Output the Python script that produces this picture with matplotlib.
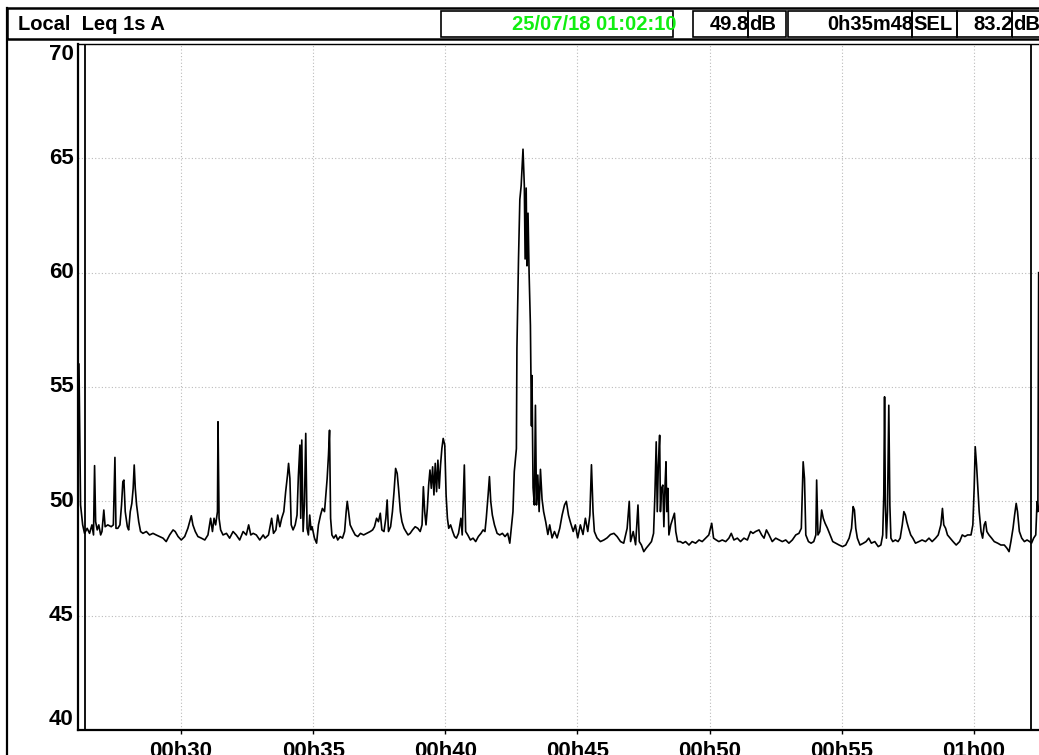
import matplotlib
matplotlib.use("Agg")
import matplotlib.pyplot as plt
from matplotlib.patches import Rectangle
from matplotlib.lines import Line2D
from matplotlib.ticker import MultipleLocator, FuncFormatter

# header fields
title = "Local  Leq 1s A"
cursor_date = "25/07/18 01:02:10"
leq_value = "49.8"
duration = "0h35m48"
sel_value = "83.2"

# cursors (minutes after 00h00)
cursor_start = 26 + 22 / 60
cursor_end = 62 + 10 / 60

# Leq 1s A readings, (minute, dB)
early = [
    (26.14, 56.0), (26.20, 49.84), (26.28, 48.97), (26.35, 48.60), (26.45, 48.82),
    (26.54, 48.60), (26.63, 48.97), (26.69, 48.53), (26.73, 51.56), (26.77, 49.11),
    (26.83, 48.75), (26.89, 48.97), (26.96, 48.53), (27.01, 48.68), (27.08, 49.62),
    (27.13, 48.89), (27.23, 48.97), (27.36, 48.89), (27.44, 48.97), (27.50, 51.92),
    (27.54, 48.82), (27.61, 48.82), (27.69, 48.97), (27.75, 49.84), (27.80, 50.86),
    (27.84, 50.93), (27.89, 49.55), (27.97, 48.89), (28.02, 48.75), (28.08, 49.55),
    (28.14, 49.91), (28.19, 50.57), (28.23, 51.59), (28.27, 50.57), (28.32, 49.84),
    (28.40, 49.11), (28.47, 48.68), (28.56, 48.60), (28.69, 48.68), (28.81, 48.53),
    (28.94, 48.60), (29.06, 48.53), (29.19, 48.46), (29.32, 48.39), (29.44, 48.24),
    (29.57, 48.53), (29.70, 48.75), (29.78, 48.68), (29.89, 48.46), (30.01, 48.31),
    (30.14, 48.46), (30.26, 48.82), (30.39, 49.37), (30.45, 48.97), (30.54, 48.68),
    (30.64, 48.46), (30.77, 48.39), (30.90, 48.31), (31.02, 48.53), (31.12, 49.26),
    (31.19, 48.68), (31.25, 49.26), (31.31, 48.97), (31.38, 49.55), (31.40, 53.48),
    (31.44, 49.26), (31.50, 48.75), (31.59, 48.53), (31.72, 48.60), (31.84, 48.39),
    (31.97, 48.68), (32.09, 48.53), (32.22, 48.31), (32.35, 48.68), (32.47, 48.53),
    (32.56, 48.97), (32.64, 48.53), (32.73, 48.60), (32.85, 48.53), (32.98, 48.31),
    (33.11, 48.53),
]

middle = [
    (33.18, 48.39), (33.31, 48.53), (33.43, 49.26), (33.50, 48.60), (33.59, 48.75),
    (33.66, 49.40), (33.74, 48.89), (33.81, 49.26), (33.89, 49.55), (33.96, 50.42),
    (34.03, 51.15), (34.07, 51.66), (34.12, 51.00), (34.17, 48.97), (34.24, 48.75),
    (34.32, 48.97), (34.39, 49.40), (34.44, 51.08), (34.50, 52.46), (34.53, 49.26),
    (34.57, 52.68), (34.62, 48.68), (34.67, 49.84), (34.72, 52.97), (34.77, 48.82),
    (34.82, 48.53), (34.87, 49.40), (34.92, 48.75), (34.96, 48.89), (35.05, 48.39),
    (35.13, 48.17), (35.20, 48.97), (35.28, 49.40), (35.35, 49.69), (35.43, 49.55),
    (35.48, 50.28), (35.53, 51.00), (35.58, 52.02), (35.62, 53.11), (35.66, 49.26),
    (35.71, 48.53), (35.78, 48.39), (35.86, 48.53), (35.93, 48.31), (36.02, 48.46),
    (36.11, 48.39), (36.19, 48.68), (36.25, 49.55), (36.29, 50.00), (36.34, 49.55),
    (36.40, 48.97), (36.49, 48.75), (36.59, 48.53), (36.69, 48.46), (36.79, 48.60),
    (36.91, 48.53), (37.03, 48.60), (37.16, 48.68), (37.25, 48.75), (37.32, 48.89),
    (37.40, 49.26), (37.47, 49.11), (37.54, 49.48), (37.60, 48.75), (37.68, 48.68),
    (37.75, 49.26), (37.80, 50.06), (37.85, 48.68), (37.93, 48.89), (38.00, 49.55),
    (38.06, 50.42), (38.12, 51.44), (38.18, 51.22), (38.23, 50.57), (38.30, 49.55),
    (38.36, 49.11), (38.44, 48.82), (38.51, 48.68), (38.59, 48.53), (38.67, 48.60),
    (38.76, 48.75), (38.86, 48.89), (38.96, 48.82), (39.05, 48.68), (39.12, 48.97),
    (39.17, 50.64), (39.22, 49.55), (39.27, 48.97), (39.32, 49.69), (39.37, 50.71),
    (39.42, 51.37), (39.47, 50.57), (39.52, 51.51), (39.57, 50.28), (39.62, 51.66),
    (39.67, 50.42), (39.72, 51.80), (39.77, 50.57), (39.82, 51.59), (39.87, 52.31),
    (39.92, 52.75), (39.98, 52.46), (40.03, 50.28), (40.08, 49.26), (40.13, 48.82),
    (40.20, 48.97), (40.28, 48.68), (40.35, 48.46),
    (40.42, 48.39), (40.50, 48.60), (40.59, 49.26), (40.64, 48.53), (40.72, 51.59),
    (40.77, 48.68), (40.85, 48.53), (40.95, 48.31), (41.05, 48.39), (41.15, 48.24),
    (41.25, 48.46), (41.35, 48.60), (41.43, 48.75), (41.50, 48.68), (41.55, 49.26),
    (41.62, 50.28), (41.67, 51.08), (41.72, 49.99), (41.78, 49.40), (41.86, 48.97),
    (41.96, 48.60), (42.06, 48.53), (42.16, 48.60), (42.26, 48.46), (42.36, 48.60),
    (42.44, 48.17), (42.51, 48.97), (42.56, 49.55),
]

event = [
    (42.61, 51.30), (42.69, 52.30), (42.71, 56.70), (42.77, 60.60), (42.82, 63.20),
    (42.87, 63.80), (42.90, 64.50), (42.94, 65.40), (42.99, 63.80), (43.02, 60.60),
    (43.06, 63.70), (43.09, 60.30), (43.13, 62.60), (43.17, 60.00), (43.22, 57.70),
    (43.26, 53.30), (43.28, 55.50), (43.32, 50.60), (43.37, 49.84), (43.41, 54.20),
    (43.45, 49.84), (43.50, 51.15), (43.55, 49.55), (43.60, 51.40), (43.66, 50.10),
    (43.72, 49.55), (43.80, 49.10), (43.88, 48.55), (43.95, 48.97), (44.04, 48.40),
    (44.13, 48.68), (44.23, 48.40), (44.33, 48.82), (44.42, 49.40), (44.51, 49.84),
    (44.58, 50.00), (44.66, 49.40), (44.73, 49.10), (44.84, 48.68), (44.92, 48.97),
    (45.01, 48.40), (45.11, 48.97), (45.21, 48.55), (45.30, 49.26), (45.39, 48.68),
    (45.47, 49.40), (45.53, 51.60), (45.59, 49.55), (45.64, 48.68), (45.74, 48.40),
    (45.87, 48.24), (46.00, 48.31), (46.12, 48.40), (46.25, 48.55), (46.38, 48.60),
    (46.50, 48.46), (46.63, 48.24), (46.75, 48.17), (46.88, 48.82), (46.96, 50.00),
    (47.01, 48.24), (47.11, 48.68), (47.20, 48.10), (47.29, 49.84), (47.34, 48.24),
]

late = [
    (47.42, 48.09), (47.51, 47.80), (47.60, 47.95), (47.70, 48.09), (47.80, 48.24),
    (47.88, 48.60), (47.93, 50.28), (47.98, 52.60), (48.02, 49.55), (48.06, 51.59),
    (48.11, 52.89), (48.14, 49.55), (48.18, 50.57), (48.23, 50.71), (48.27, 48.89),
    (48.31, 50.57), (48.35, 51.73), (48.38, 49.55), (48.42, 50.57), (48.46, 48.53),
    (48.53, 48.97), (48.61, 49.26), (48.67, 49.48), (48.72, 48.68), (48.79, 48.24),
    (48.89, 48.24), (48.99, 48.17), (49.09, 48.24), (49.22, 48.09), (49.34, 48.24),
    (49.47, 48.17), (49.60, 48.31), (49.72, 48.24), (49.85, 48.39), (49.97, 48.53),
    (50.08, 49.04), (50.15, 48.39), (50.25, 48.31), (50.35, 48.24), (50.48, 48.31),
    (50.61, 48.24), (50.73, 48.39), (50.82, 48.60), (50.92, 48.31), (51.05, 48.39),
    (51.17, 48.24), (51.30, 48.39), (51.43, 48.31), (51.55, 48.68), (51.64, 48.60),
    (51.74, 48.68), (51.87, 48.75), (51.97, 48.53), (52.06, 48.39), (52.15, 48.75),
    (52.25, 48.53), (52.37, 48.24), (52.50, 48.39), (52.63, 48.31), (52.75, 48.24),
    (52.88, 48.31), (53.00, 48.17), (53.13, 48.31), (53.26, 48.53), (53.38, 48.60),
    (53.47, 48.82), (53.54, 51.73), (53.59, 51.00), (53.64, 48.53), (53.74, 48.24),
    (53.84, 48.17), (53.94, 48.24), (54.02, 48.53), (54.05, 50.93), (54.10, 48.53),
    (54.17, 48.68), (54.24, 49.62), (54.30, 49.26), (54.37, 49.04),
]

final = [
    (54.46, 48.82), (54.56, 48.53), (54.66, 48.24), (54.77, 48.17), (54.90, 48.09),
    (55.03, 48.02), (55.15, 48.09), (55.28, 48.39), (55.37, 48.82), (55.43, 49.77),
    (55.48, 49.62), (55.53, 48.82), (55.59, 48.39), (55.69, 48.09), (55.82, 48.17),
    (55.92, 48.24), (56.02, 48.39), (56.12, 48.17), (56.25, 48.24), (56.38, 48.02),
    (56.48, 48.09), (56.55, 48.53), (56.59, 50.28), (56.62, 54.57), (56.65, 49.84),
    (56.69, 48.39), (56.73, 49.55), (56.78, 54.20), (56.82, 49.84), (56.86, 48.39),
    (56.93, 48.24), (57.03, 48.31), (57.13, 48.24), (57.21, 48.39), (57.29, 48.97),
    (57.35, 49.55), (57.41, 49.40), (57.46, 49.11), (57.53, 48.82), (57.61, 48.53),
    (57.69, 48.39), (57.79, 48.17), (57.92, 48.24), (58.04, 48.31), (58.17, 48.24),
    (58.30, 48.39), (58.42, 48.24), (58.55, 48.39), (58.65, 48.53), (58.75, 48.97),
    (58.81, 49.69), (58.86, 48.97), (58.93, 48.82), (59.00, 48.53), (59.10, 48.39),
    (59.21, 48.24), (59.33, 48.09), (59.46, 48.24), (59.56, 48.53), (59.66, 48.46),
    (59.76, 48.53), (59.89, 48.53), (59.96, 48.97), (60.01, 50.57), (60.05, 52.39),
    (60.10, 51.59), (60.15, 50.57), (60.20, 49.55), (60.27, 48.68), (60.33, 48.39),
    (60.39, 48.97), (60.44, 49.11), (60.49, 48.68), (60.57, 48.53), (60.67, 48.39),
    (60.77, 48.24), (60.90, 48.17), (61.02, 48.09), (61.15, 48.09), (61.25, 47.95),
    (61.33, 47.80), (61.40, 48.24), (61.48, 48.82), (61.54, 49.40), (61.60, 49.91),
    (61.65, 49.55), (61.72, 48.68), (61.81, 48.39), (61.91, 48.24), (62.01, 48.31),
    (62.11, 48.24), (62.18, 48.17), (62.26, 48.39), (62.34, 48.53), (62.39, 49.99),
    (62.42, 49.55), (62.45, 60.0),
]

W, H = 1039, 755
plt.rcParams['font.family'] = ['Liberation Sans', 'DejaVu Sans']
plt.rcParams['font.weight'] = 'bold'

fig = plt.figure(figsize=(W / 100, H / 100), dpi=100)


def fx(px):
    return px / W


def fy(py):
    return 1 - py / H


def box(x0, y0, x1, y1, lw=1.2):
    fig.add_artist(Rectangle((fx(x0), fy(y1)), (x1 - x0) / W, (y1 - y0) / H,
                             transform=fig.transFigure, fill=False,
                             ec='black', lw=lw))


ax = fig.add_axes([fx(78), fy(730), 1 - fx(78), fy(44) - fy(730)])

points = early + middle + event + late + final
t = [p[0] for p in points]
db = [p[1] for p in points]
ax.plot(t, db, color='black', lw=1.2)

for c in (cursor_start, cursor_end):
    ax.axvline(c, color='black', lw=1.3)

ax.set_xlim(26.103, 62.463)
ax.set_ylim(40, 70)
ax.xaxis.set_major_locator(MultipleLocator(5))
ax.yaxis.set_major_locator(MultipleLocator(5))
ax.xaxis.set_major_formatter(FuncFormatter(lambda m, p: f"{int(m // 60):02d}h{int(round(m % 60)):02d}"))
ax.grid(True, color='#bbbbbb', linestyle=(0, (1, 2)), lw=0.8)

ax.tick_params(axis='y', length=0, pad=3, labelsize=16)
ax.tick_params(axis='x', length=3, width=1, pad=5, labelsize=16, direction='out')
fig.canvas.draw()
for lab in ax.get_yticklabels():
    v = lab.get_position()[1]
    if v >= 70:
        lab.set_va('top')
    elif v <= 40:
        lab.set_va('bottom')
    else:
        lab.set_va('center')
for lab in ax.get_xticklabels() + ax.get_yticklabels():
    lab.set_fontweight('bold')

ax.spines['right'].set_visible(False)
ax.spines['left'].set_linewidth(1.6)
ax.spines['bottom'].set_linewidth(1.6)
ax.spines['top'].set_linewidth(1.0)

# outer frame and header
fig.add_artist(Line2D([fx(7), fx(7)], [fy(8), 0], transform=fig.transFigure,
                      color='black', lw=1.6))
box(7, 8, 1045, 39, lw=1.8)
box(441, 11, 673, 37)
box(693, 11, 748, 37)
box(748, 11, 786, 37)
box(788, 11, 912, 37)
box(912, 11, 957, 37)
box(957, 11, 1012, 37)
box(1012, 11, 1045, 37)

hdr = dict(fontsize=14.5, fontweight='bold', va='center')
fig.text(fx(18), fy(24), title, ha='left', **hdr)
fig.text(fx(676), fy(24), cursor_date, ha='right', color='#11ee11', **hdr)
fig.text(fx(749), fy(24), leq_value, ha='right', **hdr)
fig.text(fx(749), fy(24), "dB", ha='left', **hdr)
fig.text(fx(913), fy(24), duration, ha='right', **hdr)
fig.text(fx(913), fy(24), "SEL", ha='left', **hdr)
fig.text(fx(1013), fy(24), sel_value, ha='right', **hdr)
fig.text(fx(1013), fy(24), "dB", ha='left', **hdr)

fig.savefig("out.png", dpi=100)
